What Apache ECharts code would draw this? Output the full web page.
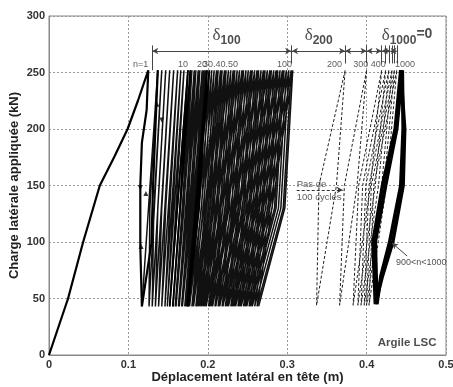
<!DOCTYPE html>
<html>
<head>
<meta charset="utf-8">
<script src="https://cdn.jsdelivr.net/npm/echarts@6/dist/echarts.min.js"></script>
<style>html,body{margin:0;padding:0;background:#fff}#chart{width:453px;height:387px}</style>
</head>
<body>
<div id="chart"></div>
<script>
const FONT = '"Liberation Sans", Arial, sans-serif';

// axes
const xTicks = [0, 0.1, 0.2, 0.3, 0.4, 0.5];
const yTicks = [0, 50, 100, 150, 200, 250, 300];

// first loading branch
const initX = [0, 0.012, 0.024, 0.043, 0.064, 0.082, 0.099, 0.112, 0.125];
const initY = [0, 25, 50, 100, 150, 175, 200, 225, 252];

// cycle n=1 (thick)
const firstUnloadX = [0.125, 0.123, 0.117, 0.115, 0.115, 0.117];
const firstUnloadY = [252, 217, 188, 150, 96, 43];
const firstReloadX = [0.117, 0.129, 0.131, 0.137];
const firstReloadY = [43, 99, 149, 252];

// cycles 2..100 : peak, point at 130 kN on unloading, valley
const PEAK_LOAD = 252, MID_LOAD = 130, VALLEY_LOAD = 43;
const denseN = [2,3,4,5,6,7,8,9,10,11,12,13,14,15,16,17,18,19,20,
    22,24,26,28,30,32,34,36,38,40,42,44,46,48,50,
    52,54,56,58,60,62,64,66,68,70,72,74,76,78,80,82,84,86,88,90,92,94,96,98,100];
const denseP = [.137,.142,.147,.152,.157,.162,.166,.170,.175,.178,.180,.183,.185,.188,.190,.193,.195,.197,.199,
    .202,.205,.208,.211,.213,.216,.218,.221,.223,.226,.229,.232,.234,.237,.240,
    .243,.245,.248,.251,.254,.256,.259,.262,.264,.267,.270,.272,.275,.278,.280,.283,.286,.288,.291,.294,.296,.299,.302,.305,.307];
const denseM = [.127,.132,.137,.142,.147,.152,.156,.160,.165,.168,.170,.173,.175,.178,.180,.183,.185,.187,.189,
    .192,.195,.198,.201,.203,.206,.208,.211,.213,.216,.219,.222,.224,.227,.230,
    .233,.235,.238,.241,.244,.246,.249,.252,.254,.257,.260,.262,.265,.268,.270,.273,.276,.278,.281,.284,.286,.289,.292,.295,.297];
const denseV = [.126,.130,.134,.138,.142,.146,.149,.152,.156,.159,.160,.163,.164,.167,.168,.171,.172,.174,.175,
    .177,.180,.182,.185,.186,.188,.190,.192,.194,.196,.198,.201,.202,.204,.206,
    .209,.210,.213,.215,.218,.219,.222,.224,.226,.229,.231,.233,.235,.238,.240,.242,.245,.247,.249,.252,.254,.256,.259,.262,.264];
const boldCycles = [10, 20];

// one cycle every 100 (dashed): peak, unload at 150 kN, valley, reload at 150 kN
const dashN = [200, 300, 400, 500, 600, 700, 800, 900];
const dashP = [.373, .400, .419, .424, .428, .432, .435, .438];
const dashU = [.340, .372, .390, .395, .399, .403, .406, .409];
const dashV = [.337, .366, .383, .389, .393, .397, .400, .403];
const dashR = [.362, .388, .405, .411, .415, .419, .422, .425];
const DASH_MID = 150, DASH_VALLEY = 44;

// 900<n<1000 (thick)
const finalY = [45, 100, 150, 200, 252, 200, 150, 100, 70, 45];
const finalA = [.411, .408, .420, .436, .443, .448, .446, .433, .420, .411];
const finalB = [.413, .411, .424, .438, .445, .446, .443, .429, .418, .413];

// annotations
const peakLabelText = ['n=1', '10', '20', '30.40.50', '100', '200', '300', '400', '1000'];
const peakLabelX = [0.125, 0.175, 0.199, 0.238, 0.306, 0.369, 0.402, 0.424, 0.461];
const PEAK_LABEL_Y = 257;
const deltaY = 269;
const deltaSpans = [[0.130, 0.305], [0.306, 0.373], [0.373, 0.400], [0.400, 0.419], [0.419, 0.430], [0.430, 0.438]];
const deltaTicks = [0.130, 0.305, 0.373, 0.400, 0.419, 0.424, 0.428, 0.432, 0.435, 0.438];
const deltaText = ['{d|δ}{s|100}', '{d|δ}{s|200}', '{d|δ}{s|1000}{e|=0}'];
const deltaTextX = [0.206, 0.322, 0.419];
const DELTA_TEXT_Y = 283;
const arrowMarks = [[0.136, 222, 0], [0.142, 208, 180], [0.115, 148, 180], [0.122, 143, 0], [0.116, 96, 0]];

const zip = (xs, ys) => xs.map((x, i) => [x, ys[i]]);

// continuous path of cycles 2..100
let densePath = [[firstReloadX[0], firstReloadY[0]]];
denseP.forEach((p, i) => {
    densePath.push([p, PEAK_LOAD], [denseM[i], MID_LOAD], [denseV[i], VALLEY_LOAD]);
});

let series = [];
const lineBase = {type: 'line', showSymbol: false, symbol: 'none', silent: true, animation: false};

series.push(Object.assign({}, lineBase, {
    data: densePath,
    lineStyle: {color: '#111', width: 1.5}
}));

boldCycles.forEach(n => {
    const i = denseN.indexOf(n);
    series.push(Object.assign({}, lineBase, {
        data: [[denseV[i - 1], VALLEY_LOAD], [denseP[i], PEAK_LOAD], [denseM[i], MID_LOAD], [denseV[i], VALLEY_LOAD], [denseP[i + 1], PEAK_LOAD]],
        lineStyle: {color: '#000', width: 1.8}
    }));
});

dashP.forEach((p, i) => {
    series.push(Object.assign({}, lineBase, {
        data: [[p, PEAK_LOAD], [dashU[i], DASH_MID], [dashV[i], DASH_VALLEY], [dashR[i], DASH_MID], [p, PEAK_LOAD]],
        lineStyle: {color: '#222', width: 1, type: [3, 2]}
    }));
});

[finalA, finalB].forEach(xs => {
    series.push(Object.assign({}, lineBase, {
        data: zip(xs, finalY),
        lineStyle: {color: '#000', width: 3.5}
    }));
});

// annotation lines, carried by the initial branch series
let marks = [];
deltaSpans.forEach(s => marks.push([
    {coord: [s[0], deltaY], symbol: 'arrow', symbolSize: [5, 6]},
    {coord: [s[1], deltaY], symbol: 'arrow', symbolSize: [5, 6]}
]));
deltaTicks.forEach((x, i) => marks.push([
    {coord: [x, 274], symbol: 'none'},
    {coord: [x, i === 0 ? 252 : 258], symbol: 'none'}
]));
marks.push([
    {coord: [0.312, 146], symbol: 'none'},
    {coord: [0.370, 146], symbol: 'arrow', symbolSize: [5, 6], lineStyle: {type: [3, 2], color: '#333', width: 1}}
]);
marks.push([
    {coord: [0.451, 87.6], symbol: 'none'},
    {coord: [0.432, 99.1], symbol: 'arrow', symbolSize: [5, 6]}
]);

series.push(Object.assign({}, lineBase, {
    data: zip(initX, initY).concat(zip(firstUnloadX, firstUnloadY)).concat(zip(firstReloadX, firstReloadY)),
    lineStyle: {color: '#000', width: 2.2},
    markLine: {
        silent: true, animation: false, precision: 4,
        label: {show: false},
        lineStyle: {color: '#444', width: 1, type: 'solid'},
        data: marks
    }
}));

series.push({
    type: 'scatter', silent: true, animation: false,
    symbol: 'triangle', symbolSize: 5,
    itemStyle: {color: '#000'},
    data: arrowMarks.map(m => ({value: [m[0], m[1]], symbolRotate: m[2]}))
});

const textSeries = (data, label) => ({
    type: 'scatter', silent: true, animation: false, symbolSize: 0, z: 5,
    data: data,
    label: Object.assign({show: true, position: 'inside', formatter: p => p.data[2], fontFamily: FONT}, label)
});

series.push(textSeries(peakLabelText.map((t, i) => [peakLabelX[i], PEAK_LABEL_Y, t]),
    {align: 'right', verticalAlign: 'middle', fontSize: 9, color: '#333'}));

series.push(textSeries(deltaText.map((t, i) => [deltaTextX[i], DELTA_TEXT_Y, t]), {
    align: 'left', verticalAlign: 'middle', color: '#222',
    rich: {
        d: {fontSize: 17, fontFamily: '"Liberation Serif", serif', color: '#222'},
        s: {fontSize: 12, fontWeight: 'bold', fontFamily: FONT, color: '#222', padding: [10, 0, 0, 0]},
        e: {fontSize: 14, fontWeight: 'bold', fontFamily: FONT, color: '#222', padding: [0, 0, 2, 0]}
    }
}));

series.push(textSeries([[0.312, 151, 'Pas de'], [0.312, 139.5, '100 cycles']],
    {align: 'left', verticalAlign: 'middle', fontSize: 9.5, color: '#333'}));
series.push(textSeries([[0.437, 81.5, '900<n<1000']],
    {align: 'left', verticalAlign: 'middle', fontSize: 9, color: '#222'}));
series.push(textSeries([[0.451, 10.5, 'Argile LSC']],
    {align: 'center', verticalAlign: 'middle', fontSize: 11.5, fontWeight: 'bold', color: '#222'}));

const axisLabel = {color: '#333', fontWeight: 'bold', fontSize: 11, fontFamily: FONT};
const chart = echarts.init(document.getElementById('chart'));
chart.setOption({
    animation: false,
    backgroundColor: '#fff',
    grid: {left: 49, right: 7, top: 16, bottom: 32, show: true, borderColor: '#888', borderWidth: 1, outerBoundsMode: 'none'},
    xAxis: {
        type: 'value', min: xTicks[0], max: xTicks[xTicks.length - 1], interval: 0.1,
        axisLine: {show: true, lineStyle: {color: '#888'}},
        axisTick: {show: false},
        splitLine: {show: true, lineStyle: {color: '#999', type: [2, 2], width: 1}},
        axisLabel: Object.assign({margin: 4, formatter: v => v === 0 ? '0' : v.toFixed(1)}, axisLabel),
        name: 'Déplacement latéral en tête (m)', nameLocation: 'middle', nameGap: 16, nameMoveOverlap: false,
        nameTextStyle: {color: '#222', fontWeight: 'bold', fontSize: 13, fontFamily: FONT}
    },
    yAxis: {
        type: 'value', min: yTicks[0], max: yTicks[yTicks.length - 1], interval: 50,
        axisLine: {show: true, lineStyle: {color: '#888'}},
        axisTick: {show: false},
        splitLine: {show: true, lineStyle: {color: '#999', type: [2, 2], width: 1}},
        axisLabel: Object.assign({margin: 4}, axisLabel),
        name: 'Charge latérale appliquée (kN)', nameLocation: 'middle', nameGap: 28, nameMoveOverlap: false,
        nameTextStyle: {color: '#222', fontWeight: 'bold', fontSize: 13, fontFamily: FONT}
    },
    series: series
});
</script>
</body>
</html>
